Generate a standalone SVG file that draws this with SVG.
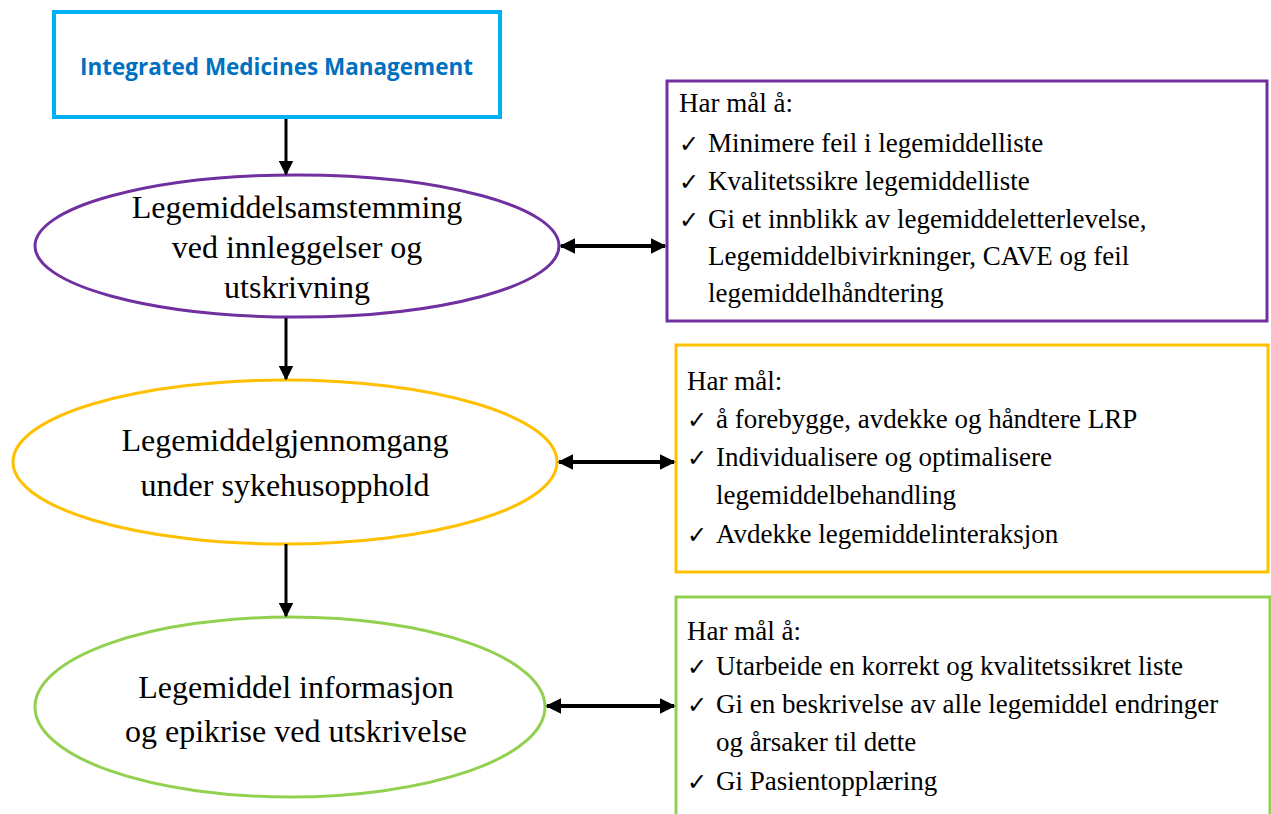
<svg xmlns="http://www.w3.org/2000/svg" width="1271" height="814" viewBox="0 0 1271 814">
  <style>
    .title { font-family: "Open Sans", "Liberation Sans", sans-serif; font-weight: bold; font-size: 24px; fill: #0070C0; }
    .oval { font-family: "Liberation Serif", "Times New Roman", serif; font-size: 32px; fill: #000; text-anchor: middle; }
    .goal { font-family: "Liberation Serif", "Times New Roman", serif; font-size: 27px; fill: #000; }
    .tick { font-family: "DejaVu Sans", sans-serif; font-size: 24px; fill: #000; }
    .link { stroke: #000; stroke-width: 3; fill: none; }
    .pair { stroke: #000; stroke-width: 4; fill: none; }
  </style>
  <defs>
    <marker id="head" viewBox="0 0 10 10" refX="9" refY="5" markerWidth="5" markerHeight="5" orient="auto-start-reverse" markerUnits="strokeWidth">
      <path d="M0,0 L10,5 L0,10 z" fill="#000"/>
    </marker>
    <marker id="head2" viewBox="0 0 10 10" refX="9" refY="5" markerWidth="4" markerHeight="4" orient="auto-start-reverse" markerUnits="strokeWidth">
      <path d="M0,0 L10,5 L0,10 z" fill="#000"/>
    </marker>
  </defs>
  <rect width="1271" height="814" fill="#fff"/>

  <!-- header box -->
  <g id="imm">
    <rect x="54" y="12" width="446" height="105" fill="#fff" stroke="#00B0F0" stroke-width="4"/>
    <text class="title" x="80" y="75" textLength="393" lengthAdjust="spacingAndGlyphs">Integrated Medicines Management</text>
  </g>

  <!-- process steps -->
  <g id="step-reconciliation">
    <ellipse cx="297" cy="246" rx="262" ry="71" fill="#fff" stroke="#7030A0" stroke-width="3"/>
    <text class="oval" x="297" y="218">Legemiddelsamstemming</text>
    <text class="oval" x="297" y="258">ved innleggelser og</text>
    <text class="oval" x="297" y="298">utskrivning</text>
  </g>
  <g id="step-review">
    <ellipse cx="285" cy="462" rx="272" ry="82" fill="#fff" stroke="#FFC000" stroke-width="3"/>
    <text class="oval" x="285" y="451">Legemiddelgjennomgang</text>
    <text class="oval" x="285" y="496">under sykehusopphold</text>
  </g>
  <g id="step-discharge">
    <ellipse cx="290" cy="707" rx="255" ry="90" fill="#fff" stroke="#92D050" stroke-width="3"/>
    <text class="oval" x="296" y="698">Legemiddel informasjon</text>
    <text class="oval" x="296" y="742">og epikrise ved utskrivelse</text>
  </g>

  <!-- goal boxes -->
  <g id="goals-reconciliation">
    <rect x="667" y="81" width="600" height="240" fill="#fff" stroke="#7030A0" stroke-width="3"/>
    <text class="goal" x="679" y="112">Har mål å:</text>
    <text class="tick" x="679" y="152">✓</text>
    <text class="goal" x="708" y="152">Minimere feil i legemiddelliste</text>
    <text class="tick" x="679" y="190">✓</text>
    <text class="goal" x="708" y="190">Kvalitetssikre  legemiddelliste</text>
    <text class="tick" x="679" y="228">✓</text>
    <text class="goal" x="708" y="228">Gi et innblikk av legemiddeletterlevelse,</text>
    <text class="goal" x="708" y="265">Legemiddelbivirkninger,  CAVE og feil</text>
    <text class="goal" x="708" y="302">legemiddelhåndtering</text>
  </g>
  <g id="goals-review">
    <rect x="676" y="345" width="592" height="227" fill="#fff" stroke="#FFC000" stroke-width="3"/>
    <text class="goal" x="687" y="390">Har mål:</text>
    <text class="tick" x="687" y="428">✓</text>
    <text class="goal" x="716" y="428">å forebygge,  avdekke  og håndtere LRP</text>
    <text class="tick" x="687" y="466">✓</text>
    <text class="goal" x="716" y="466">Individualisere  og optimalisere</text>
    <text class="goal" x="716" y="504">legemiddelbehandling</text>
    <text class="tick" x="687" y="543">✓</text>
    <text class="goal" x="716" y="543">Avdekke  legemiddelinteraksjon</text>
  </g>
  <g id="goals-discharge">
    <rect x="676" y="597" width="594" height="230" fill="#fff" stroke="#92D050" stroke-width="3"/>
    <text class="goal" x="687" y="640">Har mål å:</text>
    <text class="tick" x="687" y="675">✓</text>
    <text class="goal" x="716" y="675">Utarbeide en korrekt og kvalitetssikret  liste</text>
    <text class="tick" x="687" y="713">✓</text>
    <text class="goal" x="716" y="713">Gi en beskrivelse  av alle legemiddel  endringer</text>
    <text class="goal" x="716" y="751">og årsaker til dette</text>
    <text class="tick" x="687" y="790">✓</text>
    <text class="goal" x="716" y="790">Gi Pasientopplæring</text>
  </g>

  <!-- connectors -->
  <g id="connectors">
    <line class="link" x1="286" y1="119" x2="286" y2="174" marker-end="url(#head)"/>
    <line class="link" x1="286" y1="318" x2="286" y2="379" marker-end="url(#head)"/>
    <line class="link" x1="286" y1="544" x2="286" y2="616" marker-end="url(#head)"/>
    <line class="pair" x1="561" y1="246" x2="665" y2="246" marker-start="url(#head2)" marker-end="url(#head2)"/>
    <line class="pair" x1="559" y1="462" x2="674" y2="462" marker-start="url(#head2)" marker-end="url(#head2)"/>
    <line class="pair" x1="547" y1="706" x2="674" y2="706" marker-start="url(#head2)" marker-end="url(#head2)"/>
  </g>
</svg>
